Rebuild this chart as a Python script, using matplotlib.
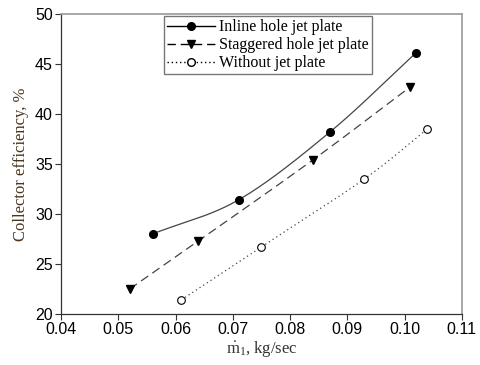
import numpy as np
import matplotlib
matplotlib.use("Agg")
import matplotlib.pyplot as plt

inline_x = [0.056, 0.071, 0.087, 0.102]
inline_y = [28.0, 31.4, 38.2, 46.1]
stag_x = [0.052, 0.064, 0.084, 0.101]
stag_y = [22.5, 27.3, 35.4, 42.7]
without_x = [0.061, 0.075, 0.093, 0.104]
without_y = [21.4, 26.7, 33.5, 38.5]
labels = ["Inline hole jet plate", "Staggered hole jet plate", "Without jet plate"]
xticks = [0.04, 0.05, 0.06, 0.07, 0.08, 0.09, 0.10, 0.11]
xticklabels = ["0.04", "0.05", "0.06", "0.07", "0.08", "0.09", "0.10", "0.11"]
yticks = [20, 25, 30, 35, 40, 45, 50]


def smooth(x, y, n=60):
    # Catmull-Rom spline through the data points (for drawing the smooth curve)
    x = np.asarray(x, float); y = np.asarray(y, float)
    P = np.column_stack([x, y])
    P = np.vstack([2 * P[0] - P[1], P, 2 * P[-1] - P[-2]])
    out = []
    for i in range(1, len(P) - 2):
        p0, p1, p2, p3 = P[i - 1], P[i], P[i + 1], P[i + 2]
        t = np.linspace(0, 1, n)[:, None]
        seg = 0.5 * ((2 * p1) + (-p0 + p2) * t + (2 * p0 - 5 * p1 + 4 * p2 - p3) * t ** 2
                     + (-p0 + 3 * p1 - 3 * p2 + p3) * t ** 3)
        out.append(seg)
    s = np.vstack(out)
    return s[:, 0], s[:, 1]


plt.rcParams["mathtext.fontset"] = "custom"
plt.rcParams["mathtext.rm"] = "Liberation Serif"
plt.rcParams["mathtext.it"] = "Liberation Serif:italic"

fig = plt.figure(figsize=(4.81, 3.65), dpi=100)
ax = fig.add_axes([0.127, 0.140, 0.833, 0.822])

lc = "#444444"
sx, sy = smooth(inline_x, inline_y)
ax.plot(sx, sy, "-", color=lc, lw=0.9)
sx, sy = smooth(stag_x, stag_y)
ax.plot(sx, sy, color=lc, lw=0.9, dashes=(7, 4))
sx, sy = smooth(without_x, without_y)
ax.plot(sx, sy, color=lc, lw=0.9, dashes=(1, 2.5))

ax.plot(inline_x, inline_y, "o", color="black", ms=5.5, ls="none")
ax.plot(stag_x, stag_y, "v", color="black", ms=6, ls="none")
ax.plot(without_x, without_y, "o", mfc="white", mec="black", mew=0.8, ms=5.5, ls="none")

# legend proxies
h1, = ax.plot([], [], "-", color="black", lw=1, marker="o", ms=5.5)
h2, = ax.plot([], [], color="black", lw=1, dashes=(6, 3.5), marker="v", ms=6)
h3, = ax.plot([], [], color="black", lw=1, dashes=(1, 2), marker="o", mfc="white", mec="black", ms=5.5)
leg = ax.legend([h1, h2, h3], labels, loc="upper left", bbox_to_anchor=(0.25, 1.0),
                prop={"family": "Liberation Serif", "size": 11.5}, frameon=True, fancybox=False,
                handlelength=3.0, handletextpad=0.25, borderpad=0.2, labelspacing=0.12,
                borderaxespad=0.15)
leg.get_frame().set_edgecolor("#555555")
leg.get_frame().set_linewidth(1.0)

ax.set_xlim(0.04, 0.11)
ax.set_ylim(20, 50)
ax.set_xticks(xticks)
ax.set_xticklabels(xticklabels)
ax.set_yticks(yticks)
for lab in ax.get_xticklabels() + ax.get_yticklabels():
    lab.set_family("Liberation Sans")
    lab.set_fontsize(11.5)
ax.tick_params(direction="out", length=4, width=0.8, color="#333333", pad=2)

for side in ["left", "bottom"]:
    ax.spines[side].set_color("#333333")
    ax.spines[side].set_linewidth(0.9)
for side in ["top", "right"]:
    ax.spines[side].set_color("#999999")
    ax.spines[side].set_linewidth(1.2)

ax.set_xlabel(r"$\dot{\mathrm{m}}_1$, kg/sec", family="Liberation Serif", fontsize=12,
              color="#333333", labelpad=1)
ax.set_ylabel("Collector efficiency, %", family="Liberation Serif", fontsize=12,
              color="#4a3520", labelpad=4)

fig.savefig("out.png", dpi=100)
